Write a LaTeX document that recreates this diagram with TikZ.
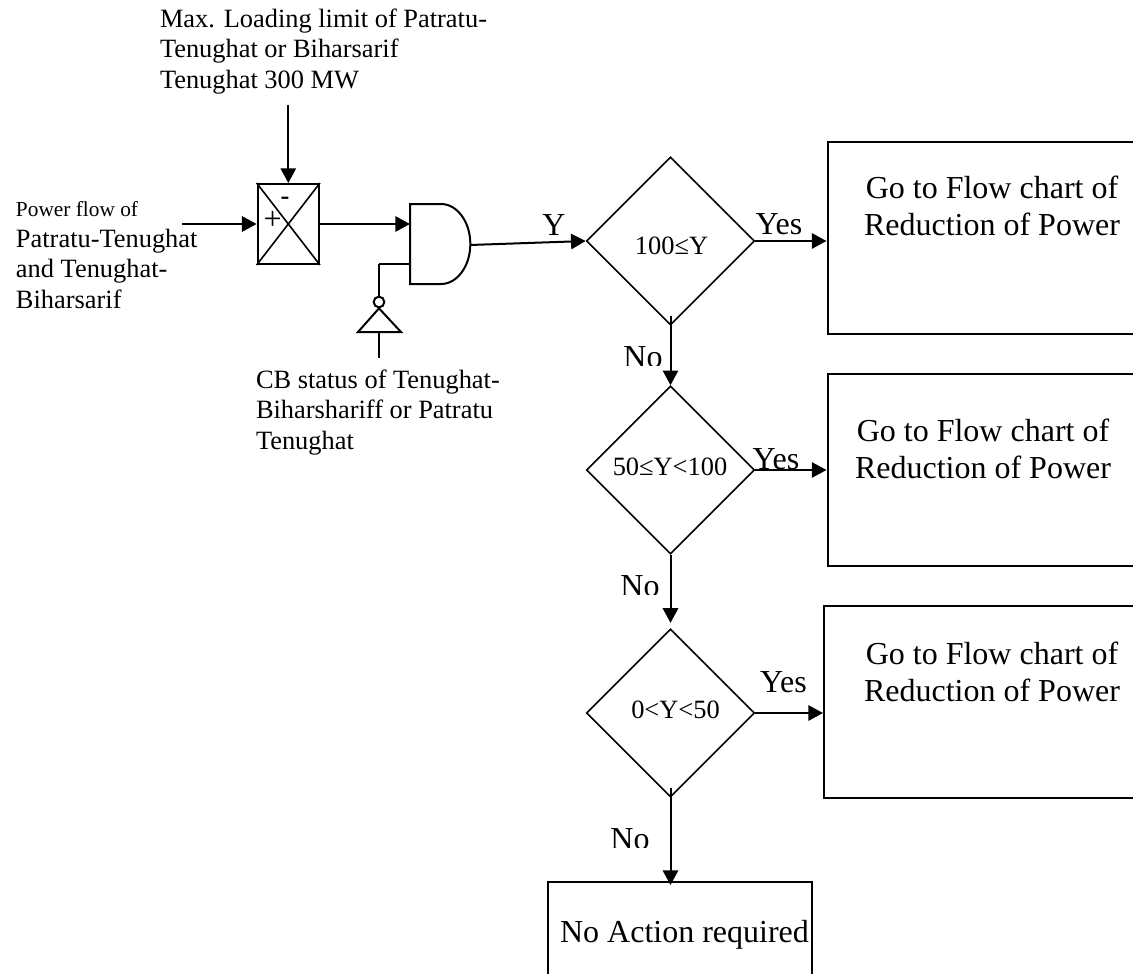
\documentclass[tikz,border=0pt]{standalone}
\usepackage{fontspec}
\setmainfont{Liberation Serif}
\usetikzlibrary{arrows.meta, positioning, shapes.geometric}
\newcommand{\bigtext}{\fontsize{24}{27.6}\selectfont}
\newcommand{\midtext}{\fontsize{19.8}{22.8}\selectfont}
\newcommand{\smalltext}{\fontsize{16}{18.4}\selectfont}
\newcommand{\cutlabel}[3]{\begin{scope}
\clip (#2-30,#3-20) rectangle (#2+30,#3+8);
\node [flag] (#1) at (#2,#3) {No};
\end{scope}}
\begin{document}
\begin{tikzpicture}[x=0.75pt,y=-0.75pt,>={Triangle[length=11pt,width=11.5pt]},line width=1.5pt]
\tikzstyle{decision}=[diamond,draw=black,line width=1.2pt,inner sep=0pt,minimum width=126pt,minimum height=126pt,aspect=1]
\tikzstyle{action}=[rectangle,draw=black,anchor=north west,minimum width=300pt,minimum height=144pt]
\tikzstyle{txt}=[inner sep=0pt,align=left,anchor=north west]
\tikzstyle{info}=[txt,font=\midtext]
\tikzstyle{goto}=[txt,font=\bigtext,align=center,anchor=north]
\tikzstyle{flag}=[inner sep=0pt,font=\bigtext]
\tikzstyle{cond}=[inner sep=0pt,font=\midtext]
\useasboundingbox (0,0) rectangle (1133,974);
\clip (0,0) rectangle (1133,974);
% decisions
\node [decision] (dyes) at (670.5,241) {};
\node [decision] (dmid) at (670.5,470) {};
\node [decision] (dlow) at (670.5,713) {};
\node [cond] (dyestxt) at (671.5,246) {100≤Y};
\node [cond] (dmidtxt) at (670,467) {50≤Y<100};
\node [cond] (dlowtxt) at (675.5,710) {0<Y<50};
% actions
\node [action] (goa) at (826.5,141) {};
\node [action] (gob) at (826.5,373) {};
\node [action] (goc) at (823,605) {};
\node [action,minimum width=198pt] (noact) at (547,881) {};
\node [goto] (goatxt) at (992,175) {Go to Flow chart of\\Reduction of Power};
\node [goto] (gobtxt) at (983,418) {Go to Flow chart of\\Reduction of Power};
\node [goto] (goctxt) at (992,641) {Go to Flow chart of\\Reduction of Power};
\node [flag] (noacttxt) at (684.5,935) {No Action required};
% subtractor
\node [rectangle,draw=black,minimum width=46pt,minimum height=60pt,inner sep=0pt] (sub) at (288.3,224) {};
\draw [line width=1.2pt] (sub.north west) -- (sub.south east) (sub.north east) -- (sub.south west);
\node [inner sep=0pt,font=\midtext\bfseries] (minus) at (285,201) {-};
\node [inner sep=0pt,font=\bigtext] (plus) at (272.7,220.7) {+};
% and gate
\coordinate (andnw) at (410,204);
\coordinate (andsw) at (410,284);
\coordinate (andout) at (470,245);
\draw (andnw) -- (441,204) arc[start angle=90,end angle=-90,x radius=22pt,y radius=30pt] -- (andsw) -- cycle;
% inverter
\node [circle,draw=black,inner sep=0pt,minimum size=8pt] (bubble) at (379,302) {};
\draw (bubble.south) -- (358,332) -- (401,332) -- cycle;
\coordinate (invbase) at (379,332);
\coordinate (invfoot) at (379,358);
\coordinate (invjoin) at (379,264);
% texts
\node [info] (limit) at (159,8) {Max. Loading limit of Patratu-\\Tenughat or Biharsarif\\Tenughat 300 MW};
\node [txt,font=\smalltext] (flowa) at (15,200) {Power flow of};
\node [info] (flowb) [below=8pt of flowa.south west,anchor=north west] {Patratu-Tenughat\\and Tenughat-\\Biharsarif};
\node [info] (status) at (255,369) {CB status of Tenughat-\\Biharshariff or Patratu\\Tenughat};
\node [flag] (ylabel) at (554,225) {Y};
\node [flag] (yesa) at (779,224) {Yes};
\node [flag] (yesb) at (776,459) {Yes};
\node [flag] (yesc) at (783.5,682) {Yes};
\cutlabel{noa}{643}{357}
\cutlabel{nob}{640}{586}
\cutlabel{noc}{630}{839}
% connectors
\coordinate (limitfoot) at (288.3,105);
\coordinate (flowin) at (182,224);
\draw [->] (limitfoot) -- (sub.north);
\draw [->] (flowin) -- (sub.west);
\draw [->] (sub.east) -- (410,224);
\draw [->] (andout) -- (dyes.west);
\draw (invjoin) -- (invjoin -| andsw);
\draw (invjoin) -- (bubble.north);
\draw (invbase) -- (invfoot);
\draw [->] (dyes.east) -- (dyes.east -| goa.west);
\draw [->] (dmid.east) -- (dmid.east -| gob.west);
\draw [->] (dlow.east) -- (dlow.east -| goc.west);
\draw [->] ([yshift=7pt]dyes.south) -- (dmid.north);
\draw [->] (dmid.south) -- ([yshift=4pt]dlow.north);
\draw [->] ([yshift=7pt]dlow.south) -- ([yshift=-3pt]dlow.south |- noact.north);
\end{tikzpicture}
\end{document}
